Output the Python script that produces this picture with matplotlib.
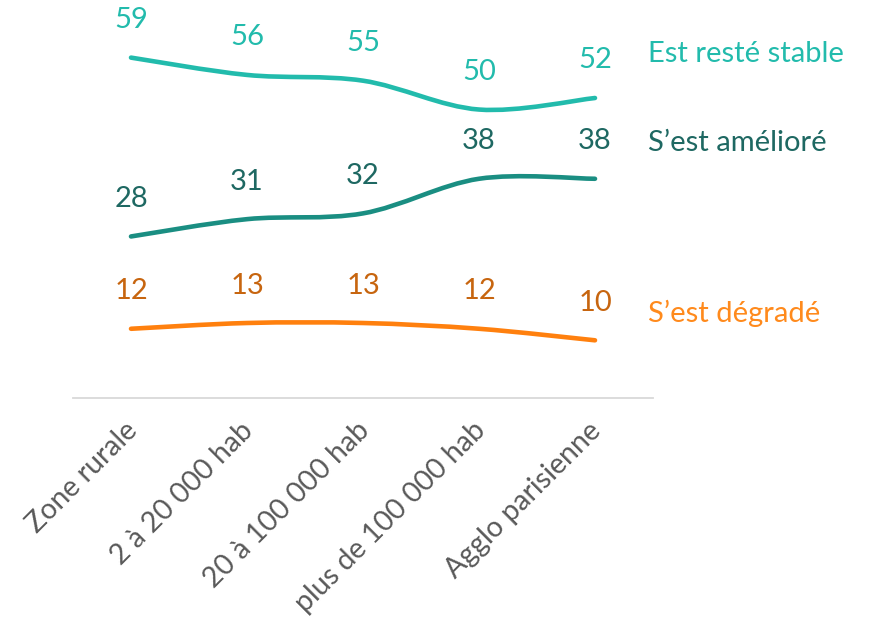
import numpy as np
import matplotlib; matplotlib.use("Agg")
import matplotlib.pyplot as plt
import matplotlib.transforms as mtransforms
from matplotlib.path import Path
from matplotlib.patches import PathPatch

categories = ["Zone rurale", "2 à 20 000 hab", "20 à 100 000 hab",
              "plus de 100 000 hab", "Agglo parisienne"]
stable = [59, 56, 55, 50, 52]
ameliore = [28, 31, 32, 38, 38]
degrade = [12, 13, 13, 12, 10]

series = [
    # values, label, line colour, number colour, legend colour, legend y
    (stable, "Est resté stable", "#22BBAC", "#22BBAC", "#22BBAC", 59.6),
    (ameliore, "S\u2019est amélioré", "#1A8E82", "#1E6862", "#1E6862", 44.2),
    (degrade, "S\u2019est dégradé", "#FF800E", "#C7650F", "#FF8A1C", 14.6),
]

plt.rcParams['font.family'] = ['Lato', 'DejaVu Sans']


def smooth_path(x, y):
    # cubic Bezier segments (Catmull-Rom style control points), like a smoothed Excel line
    p = np.column_stack([x, y]).astype(float)
    ext = np.vstack([p[0], p, p[-1]])
    verts = [p[0]]
    codes = [Path.MOVETO]
    for i in range(len(p) - 1):
        p0, p1, p2, p3 = ext[i], ext[i + 1], ext[i + 2], ext[i + 3]
        verts += [p1 + (p2 - p0) / 6, p2 - (p3 - p1) / 6, p2]
        codes += [Path.CURVE4] * 3
    return Path(verts, codes)


fig = plt.figure(figsize=(8.72, 6.3), dpi=100)
ax = fig.add_axes([73 / 872, 232 / 630, 580 / 872, 375 / 630])
ax.set_xlim(-0.5, 4.5)
ax.set_ylim(0, 65)

x = np.arange(len(categories))
for vals, label, lc, nc, tc, ly in series:
    ax.add_patch(PathPatch(smooth_path(x, vals), facecolor="none", edgecolor=lc,
                           lw=3.3, capstyle="round", clip_on=False))
    for xi, v in zip(x, vals):
        ax.annotate(str(v), (xi, v), xytext=(0, 27), textcoords="offset points",
                    ha="center", va="center", fontsize=21, color=nc)
    ax.text(4.46, ly, label, ha="left", va="center", fontsize=21, color=tc,
            clip_on=False)

for s in ["top", "right", "left"]:
    ax.spines[s].set_visible(False)
ax.spines["bottom"].set_color("#D9D9D9")
ax.spines["bottom"].set_linewidth(1.3)
ax.set_yticks([])
ax.set_xticks(x)
ax.set_xticklabels(categories, rotation=45, ha="right", rotation_mode="anchor",
                   fontsize=20.5, color="#595959")
ax.tick_params(axis="x", length=0, pad=14)
shift = mtransforms.ScaledTranslation(-5 / 72, 0, fig.dpi_scale_trans)
for lbl in ax.get_xticklabels():
    lbl.set_transform(lbl.get_transform() + shift)

fig.savefig("out.png", dpi=100)
